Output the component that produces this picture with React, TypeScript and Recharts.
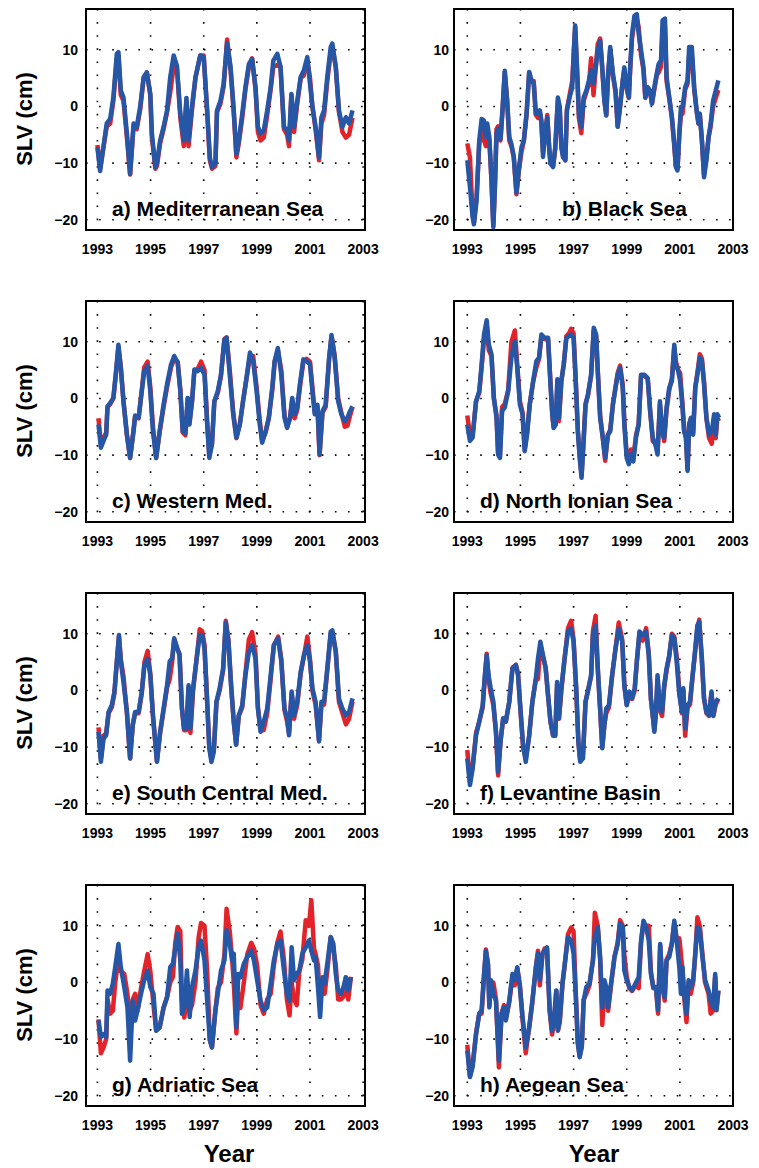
import { LineChart, Line, XAxis, YAxis, CartesianGrid, ReferenceArea } from 'recharts';

// sea level variability, 1993-2002; red and blue curves per basin
const aYears = [1993.0, 1993.1, 1993.35, 1993.48, 1993.6, 1993.73, 1993.79, 1993.88, 1993.98, 1994.11, 1994.23, 1994.36, 1994.48, 1994.61, 1994.74, 1994.86, 1994.99, 1995.05, 1995.18, 1995.24, 1995.36, 1995.49, 1995.62, 1995.74, 1995.87, 1995.99, 1996.12, 1996.25, 1996.35, 1996.43, 1996.56, 1996.69, 1996.87, 1997.0, 1997.13, 1997.23, 1997.31, 1997.44, 1997.5, 1997.63, 1997.75, 1997.88, 1998.01, 1998.13, 1998.23, 1998.32, 1998.45, 1998.57, 1998.7, 1998.82, 1998.95, 1999.04, 1999.14, 1999.26, 1999.39, 1999.52, 1999.62, 1999.77, 1999.89, 2000.02, 2000.14, 2000.21, 2000.3, 2000.4, 2000.52, 2000.65, 2000.77, 2000.9, 2001.0, 2001.09, 2001.21, 2001.34, 2001.43, 2001.53, 2001.65, 2001.78, 2001.84, 2001.97, 2002.09, 2002.22, 2002.35, 2002.47, 2002.6];
const aBlue = [-7.2, -11.4, -3, -2.2, 1.6, 9.3, 9.6, 2.8, 1.6, -4.8, -11.9, -3, -3.6, 0, 5.2, 6, 2.2, -4.8, -10.7, -10, -6, -3.6, -0.7, 5.2, 9, 7.2, -1.3, -6, 1.5, -6, 0, 5.2, 9, 8.7, -0.7, -9, -10.7, -10, -0.7, 1, 4, 11.2, 7, -0.7, -8.4, -6, -1.3, 3.4, 7.5, 8.4, 3.4, -3.6, -4.8, -4.2, -0.7, 3.4, 8.1, 9.3, 7, -3.6, -4.2, -6, 2.2, -3.6, 1, 5.2, 6.4, 8.7, 4, 0, -3.6, -9, -1.9, -0.7, 5.2, 10.5, 11.1, 7, -0.7, -3.6, -1.9, -3, -0.7];
const aRed = [-6.8, -11, -3.5, -3, 1, 8.5, 9, 2, 1, -5.5, -12, -3.5, -4, -0.5, 5, 6, 2, -5.5, -11, -10.5, -6.5, -4, -1, 2.5, 7, 7, -2, -7, 1, -7, -0.5, 5, 9, 9, -1, -9.5, -11, -10.5, -1, 0.5, 3.5, 11.8, 6.5, -1, -9, -6.5, -2, 3, 7, 8.5, 3, -4.5, -6, -5.5, -1.5, 3, 7, 7.3, 7, -4, -5, -7, 2, -4.5, 0.5, 5, 5.5, 8, 5, 0, -4, -9.5, -3, -1.5, 4.5, 9.5, 10.5, 7, -1, -4.5, -5.5, -5, -2];

const bYears = [1993.0, 1993.1, 1993.2, 1993.25, 1993.35, 1993.45, 1993.54, 1993.63, 1993.7, 1993.75, 1993.83, 1993.91, 1993.98, 1994.04, 1994.1, 1994.16, 1994.25, 1994.33, 1994.41, 1994.5, 1994.58, 1994.66, 1994.75, 1994.85, 1994.95, 1995.04, 1995.13, 1995.23, 1995.33, 1995.41, 1995.5, 1995.58, 1995.66, 1995.73, 1995.79, 1995.85, 1995.94, 1996.01, 1996.08, 1996.13, 1996.23, 1996.31, 1996.41, 1996.48, 1996.54, 1996.6, 1996.69, 1996.75, 1996.85, 1996.95, 1997.01, 1997.06, 1997.13, 1997.2, 1997.29, 1997.38, 1997.48, 1997.58, 1997.66, 1997.75, 1997.83, 1997.91, 1998.0, 1998.08, 1998.16, 1998.23, 1998.3, 1998.38, 1998.48, 1998.58, 1998.66, 1998.75, 1998.85, 1998.91, 1999.0, 1999.08, 1999.13, 1999.2, 1999.29, 1999.38, 1999.45, 1999.54, 1999.63, 1999.7, 1999.79, 1999.88, 1999.95, 2000.04, 2000.13, 2000.2, 2000.29, 2000.35, 2000.44, 2000.5, 2000.6, 2000.7, 2000.79, 2000.85, 2000.91, 2000.98, 2001.04, 2001.1, 2001.2, 2001.29, 2001.35, 2001.45, 2001.54, 2001.63, 2001.7, 2001.75, 2001.83, 2001.91, 2002.0, 2002.08, 2002.16, 2002.25, 2002.35, 2002.45];
const bBlue = [-9.5, -14.2, -19.5, -20.8, -16.6, -6, -2.2, -2.5, -5.4, -3, -5.4, -13, -21.3, -14.2, -4.8, -3.9, -5.7, -0.1, 6.3, 1, -5.4, -6.6, -8.9, -15.2, -10.7, -7.2, -6, -1.3, 6.1, 4.6, 4, -1.3, -1.3, -0.7, -2.5, -8.9, -4.2, -1.9, -7.2, -10.1, -10.7, -7.2, 1.6, -0.1, -7.2, -8.9, -9.5, -0.7, 1.6, 3.4, 9.9, 14.3, 6.9, -1.3, -3.6, 1.6, 2.8, 4.6, 6.4, 4, 6.9, 9.9, 11.6, 6.9, 1, -1.6, 5.8, 10.5, 5.8, 2.8, -3.6, -0.1, 4.6, 6.9, 3.4, 1.6, 6.9, 12.8, 16, 16.3, 12.8, 9.9, 6.9, 1.6, 3.4, 2.8, 0.5, 3.4, 5.8, 7.5, 8.1, 15.2, 15.5, 5.2, 1.6, -1.9, -6.6, -10.7, -11.3, -4.8, -0.1, -0.1, 3.4, 4.6, 10.5, 10.5, 3.4, -0.7, -3, -1.3, -6, -12.5, -9.5, -5.4, -3, 1, 2.8, 4.6];
const bRed = [-6.5, -9, -19, -20.5, -16, -6.5, -4, -6, -7, -5, -6, -13, -21, -14, -4, -3.5, -6, -0.5, 6, 1, -6, -7, -9, -15.5, -11, -8, -6, -1.5, 6, 4.5, 4.5, -1.5, -2, -1, -3, -8, -4.5, -1.5, -7, -10, -10.5, -7.5, 1, -0.5, -7, -8.5, -9.5, -0.5, 2, 4.5, 9.5, 14, 6.5, -2, -4.7, 1, 2.5, 4, 8.5, 2, 6.5, 11, 12, 6.5, 1, -1.5, 5.5, 10, 5.5, 2.5, -3.5, 0, 4.5, 6.5, 3, 1.5, 6.5, 12, 15, 15.5, 14, 9, 6.5, 1.5, 3, 2.5, 0.5, 3, 5.5, 6, 7, 13.5, 14, 4.5, 1.5, -2, -7, -10.5, -11, -5, -1.3, -1.3, 3, 4, 9, 9, 3, -0.7, -3, -1.3, -6, -12, -9, -5.5, -3.5, 0, 1.5, 2.9];

const cYears = [1993.04, 1993.13, 1993.23, 1993.33, 1993.38, 1993.48, 1993.6, 1993.7, 1993.79, 1993.88, 1993.98, 1994.11, 1994.23, 1994.36, 1994.42, 1994.55, 1994.67, 1994.76, 1994.89, 1994.99, 1995.09, 1995.21, 1995.34, 1995.49, 1995.62, 1995.77, 1995.89, 1996.02, 1996.12, 1996.21, 1996.31, 1996.4, 1996.46, 1996.56, 1996.65, 1996.77, 1996.9, 1997.03, 1997.13, 1997.21, 1997.31, 1997.4, 1997.53, 1997.65, 1997.78, 1997.86, 1997.98, 1998.11, 1998.23, 1998.36, 1998.48, 1998.61, 1998.74, 1998.86, 1998.99, 1999.11, 1999.2, 1999.33, 1999.45, 1999.58, 1999.67, 1999.79, 1999.92, 2000.04, 2000.14, 2000.25, 2000.33, 2000.42, 2000.52, 2000.62, 2000.75, 2000.87, 2001.0, 2001.09, 2001.18, 2001.28, 2001.36, 2001.47, 2001.59, 2001.72, 2001.81, 2001.93, 2002.06, 2002.18, 2002.31, 2002.41, 2002.51, 2002.6];
const cBlue = [-4.6, -8.7, -7.5, -6.4, -1.4, -0.8, 0.1, 4.8, 9.5, 5.4, -0.5, -6.4, -10.5, -5.8, -3.1, -3.4, 1.3, 4.8, 5.7, 1.3, -5.8, -10.5, -5.8, -1.1, 2.5, 6, 7.5, 6.3, 1.3, -5.8, -6.1, 0.1, -4.6, -0.5, 5.1, 4.8, 5.4, 4.2, -4.6, -10.5, -8.1, -0.5, 1.3, 4.2, 10.4, 10.7, 4.2, -2.8, -6.9, -4.6, -0.5, 3.6, 8.1, 6.6, 1.3, -4.6, -7.8, -5.8, -3.4, 1.9, 6.6, 8.9, 4.2, -3.4, -5.2, -3.4, 0.1, -2.8, -1.6, 2.5, 6.9, 6.6, 6, 1.3, -2.8, -1.1, -9.9, -2.2, -1.1, 7.2, 11.2, 7.2, -0.5, -2.8, -4, -3.4, -2.2, -1.4];
const cRed = [-3.5, -8, -7, -6, -1.5, -1, 0, 4.5, 9, 5.5, -0.5, -6.5, -10.5, -5.5, -3, -3.5, 1.5, 5.5, 6.5, 2, -5, -10.5, -6, -1.5, 2, 5.5, 7, 6.5, 1.5, -6, -6.5, 0, -4.5, -0.5, 5, 5.2, 6.5, 5, -4, -10, -8, -0.5, 1, 4, 10.5, 10.8, 5, -2.5, -7, -4.5, -0.5, 3.5, 7.5, 7.5, 2, -4, -7.5, -6, -3.5, 1.5, 6.5, 8.5, 5, -3, -5, -3.5, -0.5, -3.5, -2, 2, 6.5, 7, 6.5, 2, -2.5, -1.5, -10, -2.5, -1.5, 7, 11, 7.5, 0, -2.5, -5, -4.8, -3, -1.5];

const dYears = [1993.0, 1993.1, 1993.2, 1993.33, 1993.45, 1993.54, 1993.63, 1993.73, 1993.81, 1993.91, 1994.0, 1994.1, 1994.16, 1994.23, 1994.31, 1994.41, 1994.54, 1994.66, 1994.79, 1994.88, 1994.98, 1995.08, 1995.16, 1995.25, 1995.35, 1995.48, 1995.6, 1995.7, 1995.79, 1995.91, 1996.04, 1996.13, 1996.2, 1996.25, 1996.33, 1996.39, 1996.45, 1996.54, 1996.63, 1996.73, 1996.83, 1996.91, 1997.0, 1997.08, 1997.16, 1997.23, 1997.3, 1997.38, 1997.45, 1997.54, 1997.66, 1997.76, 1997.85, 1997.91, 1998.0, 1998.1, 1998.19, 1998.29, 1998.38, 1998.48, 1998.58, 1998.66, 1998.75, 1998.85, 1998.91, 1999.0, 1999.08, 1999.16, 1999.25, 1999.35, 1999.45, 1999.54, 1999.66, 1999.79, 1999.88, 1999.98, 2000.08, 2000.16, 2000.25, 2000.33, 2000.41, 2000.5, 2000.6, 2000.7, 2000.79, 2000.85, 2000.94, 2001.01, 2001.1, 2001.16, 2001.23, 2001.29, 2001.35, 2001.42, 2001.5, 2001.58, 2001.66, 2001.75, 2001.83, 2001.91, 2002.0, 2002.1, 2002.2, 2002.29, 2002.35, 2002.41, 2002.48];
const dBlue = [-4.6, -7.5, -6.9, -0.5, 1.3, 6, 11.3, 13.8, 9.5, 7.8, 0.1, -3.4, -9.9, -10.5, -2.2, -1.6, 1.3, 7.2, 10.1, 5.4, -1.1, -2.8, -9.3, -6.4, -1.1, 3.1, 6.6, 7.2, 11.3, 10.7, 10.7, 2.5, -2.8, -5.2, -4.6, 3.4, -3.4, 3.1, 6, 10.7, 11, 11.3, 10.7, 3.1, -5.8, -10.5, -14, -7.5, -1.1, 0.7, 4.2, 12.5, 11.3, 4.8, -3.4, -6.9, -10.5, -6.4, -5.8, -1.1, 1.9, 4.2, 5.4, 1.9, -4.6, -10.5, -11.6, -9.9, -11.1, -6.9, -4.6, 4.2, 4.2, 3.6, -2.2, -6.9, -8.1, -9.9, -0.5, -5.8, -6.9, -1.6, 1.9, 3.1, 9.5, 6, 4.8, 3.1, -1.6, -5.8, -6.9, -12.8, -4.6, -3.4, -6.4, 1.9, 4.2, 7.2, 6.6, 2.5, -3.4, -6.4, -5.8, -2.8, -6.4, -2.8, -3.4];
const dRed = [-3, -6.5, -6.5, -0.5, 1, 5.5, 10.5, 13, 8.5, 7.5, 0, -3, -9.5, -10, -1.5, -1, 1.5, 10, 12, 6, -0.5, -2.5, -9, -6, -1, 3, 5.5, 7, 11, 10.5, 10.5, 3, -3, -5, -4.5, 3, -4, 3, 6, 11, 11.5, 12.3, 11.5, 3.5, -5.5, -10, -13.5, -7, -1, 0.5, 4, 12, 11, 5, -3, -7, -11, -6.5, -5.5, -1, 2, 4.5, 5.8, 2.5, -4, -10, -11, -9, -10.5, -6.5, -4.5, 4, 4, 3.5, -2, -7.5, -8, -9.5, -1, -5.5, -7.5, -2, 1.5, 3.5, 9, 6.5, 5, 4.5, -1, -5.5, -7, -12.5, -4.5, -3.5, -6, 2, 4.5, 7.8, 7, 3, -3.5, -7, -8, -3.5, -7, -3.5, -4];

const eYears = [1993.04, 1993.13, 1993.23, 1993.33, 1993.42, 1993.54, 1993.64, 1993.73, 1993.81, 1993.88, 1993.98, 1994.11, 1994.23, 1994.33, 1994.42, 1994.55, 1994.67, 1994.77, 1994.89, 1994.99, 1995.09, 1995.24, 1995.36, 1995.49, 1995.62, 1995.72, 1995.81, 1995.89, 1995.99, 1996.09, 1996.18, 1996.26, 1996.35, 1996.43, 1996.5, 1996.6, 1996.72, 1996.85, 1996.94, 1997.03, 1997.13, 1997.21, 1997.29, 1997.38, 1997.48, 1997.6, 1997.73, 1997.83, 1997.93, 1998.03, 1998.13, 1998.22, 1998.32, 1998.45, 1998.57, 1998.7, 1998.82, 1998.95, 1999.04, 1999.14, 1999.26, 1999.39, 1999.52, 1999.64, 1999.8, 1999.92, 2000.04, 2000.14, 2000.21, 2000.31, 2000.4, 2000.52, 2000.65, 2000.77, 2000.9, 2001.0, 2001.09, 2001.21, 2001.34, 2001.43, 2001.53, 2001.65, 2001.78, 2001.84, 2001.97, 2002.09, 2002.22, 2002.35, 2002.47, 2002.6];
const eBlue = [-7.3, -12.6, -8.5, -7.9, -3.8, -2.6, -0.2, 5.1, 9.8, 5.1, 1.5, -3.8, -12, -6.1, -3.8, -3.8, -0.2, 4.5, 5.6, 2.7, -4.4, -12.6, -7.3, -3.2, 0.9, 5.1, 5.6, 9.2, 7.7, 6.2, -3.2, -6.7, -6.7, 0.9, -6.7, 0.4, 5.1, 9.8, 9.8, 7.4, -2, -10.2, -12.6, -10.8, -2, 0.4, 3.9, 12, 8.6, 0.9, -5.5, -9.6, -4.4, -2.6, 2.7, 6.8, 8, 5.6, -3.2, -7.3, -5.5, -3.2, 2.7, 8, 9.2, 5.1, -3.2, -4.9, -7.9, -0.2, -4.4, -2, 3.3, 6.2, 8, 5.1, 0.4, -2, -9, -2, -2, 3.9, 10.4, 10.6, 6.8, -1.4, -3.2, -4.4, -3.8, -1.4];
const eRed = [-6.5, -12, -8, -7.5, -4, -3, -0.5, 5, 9.5, 5.5, 2.5, -4, -12, -6, -4, -4, -0.5, 5, 7, 3, -4.5, -12.5, -7.5, -3.5, 0.5, 2, 5, 9, 7.5, 6.5, -3, -7, -7, 0.5, -7.5, 0, 5, 10.8, 10.5, 8, -2, -10, -12, -10.5, -2, 0, 3.5, 12.3, 9, 1, -5.5, -9.5, -4.5, -3, 3, 9, 10.3, 6.5, -3, -7, -7, -4, 2, 8, 9.5, 5.5, -3.5, -5.5, -7.5, -0.5, -5, -2.5, 3, 6, 9.5, 5.5, 0, -2.5, -8.8, -2.5, -2.5, 3.5, 10, 10.3, 7, -2, -4, -6, -5, -2];

const fYears = [1993.0, 1993.1, 1993.2, 1993.33, 1993.45, 1993.58, 1993.66, 1993.73, 1993.8, 1993.88, 1993.98, 1994.08, 1994.16, 1994.25, 1994.35, 1994.45, 1994.58, 1994.7, 1994.83, 1994.91, 1995.0, 1995.1, 1995.2, 1995.33, 1995.45, 1995.58, 1995.66, 1995.75, 1995.85, 1995.95, 1996.04, 1996.13, 1996.23, 1996.31, 1996.38, 1996.45, 1996.54, 1996.66, 1996.79, 1996.91, 1997.0, 1997.1, 1997.18, 1997.25, 1997.35, 1997.45, 1997.54, 1997.66, 1997.73, 1997.83, 1997.91, 1998.0, 1998.08, 1998.16, 1998.23, 1998.33, 1998.45, 1998.58, 1998.7, 1998.83, 1998.91, 1999.0, 1999.1, 1999.2, 1999.3, 1999.38, 1999.48, 1999.6, 1999.73, 1999.83, 1999.91, 1999.98, 2000.04, 2000.1, 2000.16, 2000.25, 2000.33, 2000.41, 2000.5, 2000.6, 2000.7, 2000.79, 2000.88, 2000.98, 2001.08, 2001.13, 2001.2, 2001.29, 2001.38, 2001.48, 2001.58, 2001.66, 2001.73, 2001.83, 2001.91, 2002.0, 2002.1, 2002.19, 2002.26, 2002.35, 2002.45];
const fBlue = [-12, -16.7, -13.8, -7.9, -5.5, -2.6, 2.7, 6.2, 2.7, 0.4, -2, -7.3, -14.4, -9, -4.9, -5.5, -2, 3.9, 4.5, 2.7, -3.2, -9.6, -12.6, -7.9, -2, 2.1, 5.6, 8.6, 6.2, 3.9, -0.8, -5.5, -7.9, -7.9, 1.5, -4.9, 0.4, 5.6, 10.4, 10.9, 8.6, 0.4, -9, -12.6, -12, -2, -0.2, 2.7, 9.8, 11.5, 3.9, -3.2, -10.2, -6.1, -3.2, -2.6, 2.7, 7.4, 10.9, 8.6, 0.9, -2.6, -0.2, -1.4, 0.4, 5.1, 10.4, 9.8, 10.4, 6.2, -1.4, -4.4, -7.3, -3.8, 2.7, -3.2, -3.8, 0.9, 3.9, 6.2, 9.8, 9.2, 5.1, -0.8, -3.8, 0.4, -6.7, -2.6, -2, 2.7, 7.4, 11.5, 12.1, 5.6, -1.4, -3.8, -4.4, -0.2, -4.4, -2, -1.4];
const fRed = [-10.5, -16, -13.5, -7.5, -5.5, -3, 2, 6.5, 2, -0.5, -2.5, -7.5, -15, -9, -5, -5.5, -2, 4, 4.5, 3, -3.5, -10, -12, -8, -2, 2, 2, 8, 6, 4, -1, -5.5, -8, -8, 1, -5, 0, 5.5, 11, 12.3, 9, 0, -9, -12.3, -12, -2, 0, 2.5, 10.5, 13.2, 4, -3.5, -10, -6, -4, -3, 2.5, 7.5, 12, 9, 1, -2.5, -0.5, -1.5, 0, 5, 10, 8.8, 11, 6.5, -1.5, -4.5, -7, -4, 2, -3.5, -4.5, 0.5, 3.5, 6, 10, 9.5, 6, 0, -4, 0, -8, -3, -2.5, 2.5, 7, 11, 12.5, 5, -1.5, -4, -4.5, -0.5, -4.5, -2.5, -1.5];

const gYears = [1993.04, 1993.13, 1993.23, 1993.33, 1993.38, 1993.48, 1993.58, 1993.67, 1993.79, 1993.88, 1994.01, 1994.13, 1994.23, 1994.33, 1994.42, 1994.51, 1994.64, 1994.76, 1994.89, 1994.99, 1995.11, 1995.21, 1995.34, 1995.49, 1995.62, 1995.74, 1995.84, 1995.93, 1996.02, 1996.12, 1996.18, 1996.27, 1996.37, 1996.47, 1996.56, 1996.69, 1996.81, 1996.9, 1997.03, 1997.13, 1997.23, 1997.31, 1997.44, 1997.53, 1997.65, 1997.78, 1997.86, 1997.98, 1998.07, 1998.13, 1998.23, 1998.3, 1998.38, 1998.51, 1998.64, 1998.79, 1998.89, 1999.01, 1999.14, 1999.26, 1999.39, 1999.52, 1999.64, 1999.77, 1999.89, 2000.02, 2000.13, 2000.23, 2000.31, 2000.4, 2000.5, 2000.6, 2000.71, 2000.84, 2000.96, 2001.05, 2001.15, 2001.21, 2001.3, 2001.38, 2001.47, 2001.55, 2001.65, 2001.78, 2001.88, 2001.97, 2002.06, 2002.16, 2002.26, 2002.35, 2002.44, 2002.54];
const gBlue = [-6.7, -9.6, -9.1, -9.6, -1.4, -2, -0.2, 2.7, 6.8, 2.7, -0.8, -4.4, -13.8, -3.2, -6.7, -4.9, -2, 0.4, 2.1, -0.8, -2, -8.5, -7.9, -4.4, -2.6, 2.7, 3.3, 6.2, 8.6, 3.9, -5.5, -4.4, 2.1, -6.1, -0.8, 2.1, 6.2, 7.4, 3.9, -3.2, -10.2, -11.4, -4.9, -2, 2.1, 3.9, 9.2, 6.8, 3.9, 5.1, -7.9, 1.5, 0.9, 3.3, 4.5, 5.6, 3.9, 0.4, -3.2, -4.9, -4.4, -0.2, 3.9, 6.8, 7.4, 2.1, -2, -3.2, 6.2, 0.4, 1.5, 2.1, 5.1, 6.2, 7.4, 5.6, 3.9, 4.5, -0.8, -6.1, 0.9, -0.2, 3.3, 8, 6.8, 1.5, -1.4, -2, -0.8, 0.9, -1.4, 0.9];
const gRed = [-6.5, -12.5, -11.5, -10, -3, -5.5, -5, 0, 4, 2, 1.5, -2, -8, -3, -2, -5, -1, 2, 5, 2, -4, -8.5, -8, -4.5, -2.6, 0, 1, 7, 9.8, 9, -3, -6.2, -2, -5, -4, 0, 8, 10.5, 10, 2, -10, -11.5, -5, -1, 0, 5, 13, 9, 4, 0, -9, -2, -4.5, 0, 5, 7, 6, 3, -4, -5.5, -3, -2, 3, 7, 9, 4, -3, -5.8, 0, -3, -4, 2, 4, 11, 10, 14.5, 6, 5, 3, -4, 0, -2, 2, 8, 6, 3, -3, -3, -2.5, 0.9, -3, 1];

const hYears = [1993.0, 1993.1, 1993.2, 1993.33, 1993.45, 1993.54, 1993.63, 1993.7, 1993.78, 1993.83, 1993.89, 1993.98, 1994.08, 1994.19, 1994.29, 1994.38, 1994.45, 1994.58, 1994.7, 1994.79, 1994.88, 1994.98, 1995.08, 1995.2, 1995.33, 1995.45, 1995.58, 1995.66, 1995.73, 1995.83, 1995.91, 1996.0, 1996.1, 1996.19, 1996.26, 1996.35, 1996.41, 1996.48, 1996.58, 1996.7, 1996.79, 1996.91, 1997.0, 1997.08, 1997.16, 1997.23, 1997.31, 1997.38, 1997.48, 1997.6, 1997.73, 1997.8, 1997.91, 1998.0, 1998.08, 1998.16, 1998.23, 1998.3, 1998.41, 1998.54, 1998.66, 1998.75, 1998.85, 1998.91, 1999.0, 1999.1, 1999.2, 1999.33, 1999.45, 1999.54, 1999.63, 1999.73, 1999.83, 1999.91, 2000.0, 2000.1, 2000.18, 2000.26, 2000.35, 2000.43, 2000.5, 2000.6, 2000.7, 2000.79, 2000.88, 2000.98, 2001.04, 2001.1, 2001.16, 2001.25, 2001.33, 2001.41, 2001.5, 2001.58, 2001.66, 2001.75, 2001.85, 2001.95, 2002.08, 2002.16, 2002.25, 2002.33, 2002.38, 2002.45];
const hBlue = [-12, -16.7, -14.9, -9.1, -5.5, -4.9, 1.5, 5.6, 3.3, -4.4, 0.4, -2, -3.2, -13.8, -5.5, -4.4, -6.7, -3.2, 1.5, 0.4, 2.7, -0.8, -6.1, -11.4, -7.9, -3.2, 2.7, 5.1, 0.4, 5.1, 5.6, 6.2, -4.9, -8.5, -6.7, -1.4, -8.5, -6.7, -0.2, 4.5, 8, 7.4, 5.1, -2, -10.8, -13.2, -11.4, -3.2, -0.8, -0.2, 3.9, 8, 9.8, 4.5, -4.4, 0.4, -0.8, -4.4, -0.2, 4.5, 6.8, 10.4, 9.8, 2.1, 0.4, -0.8, -1.4, -0.2, 0.9, 7.4, 10.9, 9.8, 7.4, 1.5, -0.8, -0.8, -4.9, 6.8, -0.8, -2.6, 3.9, 4.5, 6.8, 10.9, 7.4, 2.7, -2, 2.7, -2, -5.5, 0.4, -0.8, 0.4, 5.1, 9.8, 9.2, 4.5, 0.4, -1.4, -3.2, -4.4, 1.5, -4.9, -1.4];
const hRed = [-11, -16.5, -14.5, -9, -5.5, -5.5, 1, 5.8, 3, -4, 0, 0, -3, -15, -5.5, -4, -6.5, -3.5, 1, -0.5, 2.5, -0.5, -6.5, -12.5, -8, -3.5, 2.5, 5.6, -0.5, 5, 6, 6, -5, -9.2, -7, -1.5, -8.5, -7, -0.5, 4.5, 8.5, 9.7, 9, -1.5, -10.5, -13, -11, -3, -2, -0.5, 4, 12.3, 10, 4, -7.5, -1, -2, -5, -0.5, 4.5, 7, 11, 10, 5, 1, -1, -1.5, -0.5, -1, 7, 10.5, 10, 10, 2, -1, -1, -5.5, 6.5, -1, -3.2, 4, 5, 7, 10.5, 7.8, 7.8, 5, 2, -2.5, -7, 0, -2, 0, 5, 11.5, 10, 5, 0, -2, -5.5, -5, 1, -4.5, -1.5];

const yTicks = [-20, -10, 0, 10];
const xTicks = [1993, 1995, 1997, 1999, 2001, 2003];

const FONT = '"Liberation Sans", Arial, Helvetica, sans-serif';
const RED = '#e3232a';
const BLUE = '#2656a6';
const Y_DOMAIN: [number, number] = [-21.8, 17.2];
const ROW_TOP = [9, 301, 593, 885];
const PLOT_H = 221;
const PAD = 6;
const X_AXIS_H = 34;

const COLS = [
  { left: 0, width: 380, axisW: 86, right: 15, domain: [1992.57, 2003.07] as [number, number], gap: 8, titleX: 112, labelX: 229 },
  { left: 380, width: 379, axisW: 74, right: 26, domain: [1992.5, 2003.0] as [number, number], gap: 5, titleX: 480, labelX: 594 },
];

const panels = [
  { title: 'a) Mediterranean Sea', years: aYears, red: aRed, blue: aBlue, row: 0, col: 0 },
  { title: 'b) Black Sea', years: bYears, red: bRed, blue: bBlue, row: 0, col: 1, titleX: 562 },
  { title: 'c) Western Med.', years: cYears, red: cRed, blue: cBlue, row: 1, col: 0 },
  { title: 'd) North Ionian Sea', years: dYears, red: dRed, blue: dBlue, row: 1, col: 1 },
  { title: 'e) South Central Med.', years: eYears, red: eRed, blue: eBlue, row: 2, col: 0 },
  { title: 'f) Levantine Basin', years: fYears, red: fRed, blue: fBlue, row: 2, col: 1 },
  { title: 'g) Adriatic Sea', years: gYears, red: gRed, blue: gBlue, row: 3, col: 0 },
  { title: 'h) Aegean Sea', years: hYears, red: hRed, blue: hBlue, row: 3, col: 1 },
];

const fmtY = (v: number) => (v < 0 ? `\u2212${Math.abs(v)}` : `${v}`);

// bold 14px tick labels, drawn as plain svg text
function XTick({ x, y, payload }: any) {
  return (
    <text x={x} y={y} dy={10} textAnchor="middle" fontFamily={FONT} fontWeight={700} fontSize={14} fill="#000">
      {payload.value}
    </text>
  );
}

function YTick({ x, y, payload }: any) {
  return (
    <text x={x} y={y} dy={5} textAnchor="end" fontFamily={FONT} fontWeight={700} fontSize={14} fill="#000">
      {fmtY(payload.value)}
    </text>
  );
}

function Panel({ p }: { p: (typeof panels)[number] }) {
  const col = COLS[p.col];
  const data = p.years.map((t, i) => ({ t, red: p.red[i], blue: p.blue[i] }));
  return (
    <div style={{ position: 'absolute', left: col.left, top: ROW_TOP[p.row] - PAD }}>
      <LineChart
        width={col.width}
        height={PAD + PLOT_H + X_AXIS_H}
        data={data}
        margin={{ top: PAD, right: col.right, bottom: 0, left: 0 }}
      >
        <CartesianGrid stroke="#000" strokeWidth={1.6} strokeDasharray="1.6 11.5" />
        <XAxis
          type="number"
          dataKey="t"
          domain={col.domain}
          ticks={xTicks}
          interval={0}
          allowDataOverflow
          height={X_AXIS_H}
          tickSize={0}
          tickMargin={14}
          axisLine={false}
          tick={<XTick />}
        />
        <YAxis
          type="number"
          domain={Y_DOMAIN}
          ticks={yTicks}
          interval={0}
          allowDataOverflow
          width={col.axisW}
          tickSize={0}
          tickMargin={col.gap}
          axisLine={false}
          tick={<YTick />}
        />
        <Line type="linear" dataKey="red" stroke={RED} strokeWidth={4.5} strokeLinejoin="round" dot={false} isAnimationActive={false} />
        <Line type="linear" dataKey="blue" stroke={BLUE} strokeWidth={4.5} strokeLinejoin="round" dot={false} isAnimationActive={false} />
        <ReferenceArea
          x1={col.domain[0]}
          x2={col.domain[1]}
          y1={Y_DOMAIN[0]}
          y2={Y_DOMAIN[1]}
          fill="none"
          stroke="#000"
          strokeWidth={2}
          ifOverflow="visible"
        />
      </LineChart>
    </div>
  );
}

export default function App() {
  return (
    <div style={{ position: 'absolute', left: 0, top: 0, width: 759, height: 1168, background: '#fff', fontFamily: FONT }}>
      {panels.map((p) => (
        <Panel key={p.title} p={p} />
      ))}
      <svg width={759} height={1168} style={{ position: 'absolute', left: 0, top: 0, pointerEvents: 'none' }}>
        {panels.map((p) => (
          <text
            key={p.title}
            x={p.titleX ?? COLS[p.col].titleX}
            y={ROW_TOP[p.row] + 207}
            fontFamily={FONT}
            fontWeight={700}
            fontSize={21}
            fill="#000"
          >
            {p.title}
          </text>
        ))}
        {ROW_TOP.map((top) => (
          <text
            key={top}
            transform={`translate(32, ${top + 110}) rotate(-90)`}
            textAnchor="middle"
            fontFamily={FONT}
            fontWeight={700}
            fontSize={22}
            fill="#000"
          >
            SLV (cm)
          </text>
        ))}
        {COLS.map((c) => (
          <text key={c.left} x={c.labelX} y={1162} textAnchor="middle" fontFamily={FONT} fontWeight={700} fontSize={24} fill="#000">
            Year
          </text>
        ))}
      </svg>
    </div>
  );
}
